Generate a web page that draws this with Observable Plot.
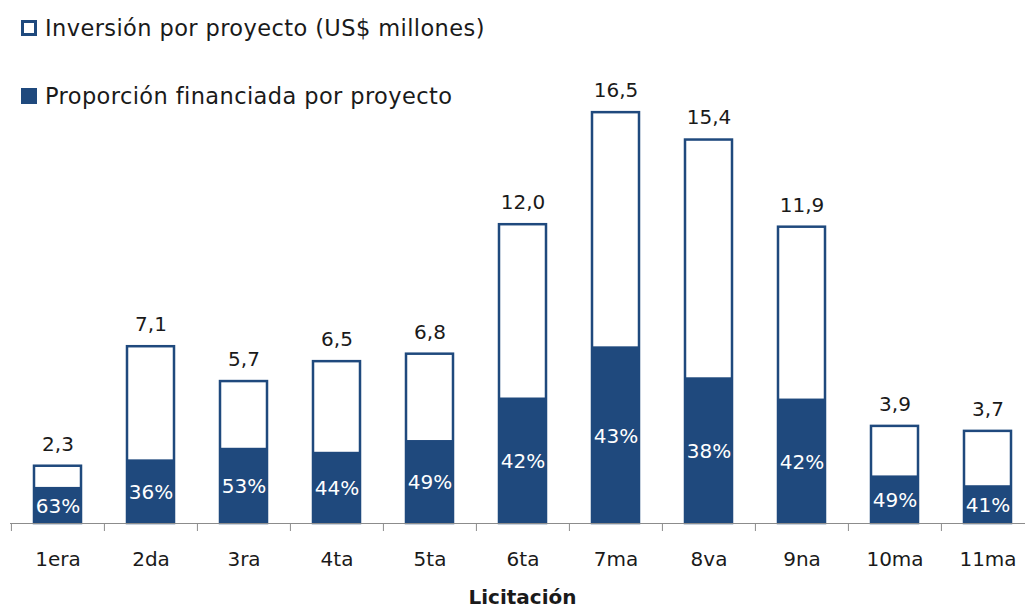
<!DOCTYPE html>
<html>
<head>
<meta charset="utf-8">
<script src="https://cdn.jsdelivr.net/npm/d3@7"></script>
<script src="https://cdn.jsdelivr.net/npm/@observablehq/plot@0.6"></script>
<style>
  html, body { margin: 0; padding: 0; background: #fff; }
  body { width: 1025px; height: 609px; position: relative; overflow: hidden; font-family: "DejaVu Sans", sans-serif; color: #1a1a1a; }
  #chart { position: absolute; left: 0; top: 0; }
  .leg { position: absolute; left: 21px; display: flex; align-items: center; font-size: 22.5px; letter-spacing: 0.4px; white-space: nowrap; line-height: 26px; }
  .sw { width: 16px; height: 16px; box-sizing: border-box; margin-right: 8px; }
  .sw.outline { border: 3px solid #1F497D; background: #fff; }
  .sw.solid { background: #1F497D; }
  #xtitle { position: absolute; left: 0; width: 1045px; text-align: center; top: 587px; font-size: 20px; line-height: 20px; font-weight: bold; }
</style>
</head>
<body>
<div id="chart"></div>
<div class="leg" style="top:15px"><div class="sw outline"></div><span>Inversión por proyecto (US$ millones)</span></div>
<div class="leg" style="top:83px"><div class="sw solid"></div><span>Proporción financiada por proyecto</span></div>
<div id="xtitle">Licitación</div>
<script>
const categories = ["1era", "2da", "3ra", "4ta", "5ta", "6ta", "7ma", "8va", "9na", "10ma", "11ma"];
const investment = [2.3, 7.1, 5.7, 6.5, 6.8, 12.0, 16.5, 15.4, 11.9, 3.9, 3.7];
const sharePct = [63, 36, 53, 44, 49, 42, 43, 38, 42, 49, 41];

const data = categories.map((c, i) => ({
  cat: c,
  total: investment[i],
  pct: sharePct[i],
  financed: investment[i] * sharePct[i] / 100
}));

const blue = "#1F497D";
const step = (1035 - 10) / categories.length;

const chart = Plot.plot({
  width: 1025,
  height: 609,
  marginTop: 25,
  marginBottom: 86,
  marginLeft: 10,
  marginRight: 0,
  style: { fontFamily: "DejaVu Sans, sans-serif", fontSize: "20px", color: "#1a1a1a", background: "transparent" },
  x: { domain: categories, range: [10, 1035], paddingInner: 0.5, paddingOuter: 0.25 },
  y: { domain: [0, 20], axis: null },
  marks: [
    Plot.barY(data, { x: "cat", y: "total", fill: "#fff", stroke: blue, strokeWidth: 2.5 }),
    Plot.barY(data, { x: "cat", y: "financed", fill: blue }),
    Plot.ruleY([0], { stroke: "#8c8c8c", strokeWidth: 1.2 }),
    Plot.axisX({ fill: "none", stroke: "#8c8c8c", tickSize: 8, dx: -step / 2, label: null }),
    Plot.axisX({ tickSize: 0, tickPadding: 28, label: null, fill: "#1a1a1a" }),
    Plot.text(data, { x: "cat", y: "total", text: d => d.total.toFixed(1).replace(".", ","), dy: -22, lineAnchor: "middle", fill: "#1a1a1a" }),
    Plot.text(data, { x: "cat", y: d => d.financed / 2, text: d => d.pct + "%", dy: 1, lineAnchor: "middle", fill: "#fff" })
  ]
});
document.getElementById("chart").appendChild(chart);
</script>
</body>
</html>
